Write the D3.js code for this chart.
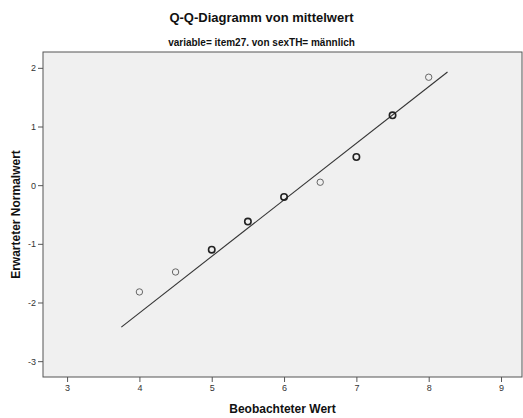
<!DOCTYPE html>
<html>
<head>
<meta charset="utf-8">
<script src="https://cdn.jsdelivr.net/npm/d3@7"></script>
<style>
body { margin: 0; background: #fff; }
text { font-family: "Liberation Sans", Arial, sans-serif; }
</style>
</head>
<body>
<div id="chart"></div>
<script>
var svgWidth = 523;
var svgHeight = 418;

var margin = { top: 52, right: 1, bottom: 41, left: 43 };
var chartWidth = svgWidth - margin.left - margin.right;
var chartHeight = svgHeight - margin.top - margin.bottom;

var observed = [4, 4.5, 5, 5.5, 6, 6.5, 7, 7.5, 8];
var expected = [-1.82, -1.48, -1.10, -0.62, -0.20, 0.05, 0.48, 1.19, 1.84];
var counts = [1, 1, 2, 2, 2, 1, 2, 2, 1];

// reference line ends
var lineX = [3.75, 8.26];
var lineY = [-2.42, 1.93];

var xTicks = [3, 4, 5, 6, 7, 8, 9];
var yTicks = [-3, -2, -1, 0, 1, 2];

var svg = d3.select("#chart")
            .append("svg")
            .attr("width", svgWidth)
            .attr("height", svgHeight);

var chartGroup = svg.append("g")
                    .attr("transform", `translate(${margin.left}, ${margin.top})`);

var xScale = d3.scaleLinear()
               .domain([2.667, 9.29])
               .range([0, chartWidth]);

var yScale = d3.scaleLinear()
               .domain([-3.27, 2.27])
               .range([chartHeight, 0]);

chartGroup.append("rect")
          .attr("width", chartWidth)
          .attr("height", chartHeight)
          .attr("fill", "#f0f0f0")
          .attr("stroke", "#555")
          .attr("stroke-width", 1);

var bottomAxis = d3.axisBottom(xScale).tickValues(xTicks).tickSize(5).tickPadding(3)
                   .tickFormat(d => String(d));
var leftAxis = d3.axisLeft(yScale).tickValues(yTicks).tickSize(5).tickPadding(2)
                 .tickFormat(d => String(d));

var xAxis = chartGroup.append("g")
                      .attr("transform", `translate(0, ${chartHeight})`)
                      .call(bottomAxis);
var yAxis = chartGroup.append("g").call(leftAxis);

[xAxis, yAxis].forEach(function(ax) {
    ax.select(".domain").remove();
    ax.selectAll(".tick line").attr("stroke", "#555");
    ax.selectAll(".tick text")
      .attr("fill", "#333")
      .attr("font-size", "9px")
      .style("font-family", "'Liberation Sans', Arial, sans-serif");
});

var line = d3.line()
             .x(d => xScale(d[0]))
             .y(d => yScale(d[1]));

chartGroup.append("path")
          .datum(d3.zip(lineX, lineY))
          .attr("d", line)
          .attr("fill", "none")
          .attr("stroke", "#333")
          .attr("stroke-width", 1.1);

chartGroup.selectAll("circle")
          .data(d3.zip(observed, expected, counts))
          .enter()
          .append("circle")
          .attr("cx", d => xScale(d[0]))
          .attr("cy", d => yScale(d[1]))
          .attr("r", 3.2)
          .attr("fill", "none")
          .attr("stroke", d => d[2] > 1 ? "#222" : "#666")
          .attr("stroke-width", d => d[2] > 1 ? 1.6 : 1);

svg.append("text")
   .attr("x", svgWidth / 2)
   .attr("y", 22)
   .attr("text-anchor", "middle")
   .attr("font-size", "13px")
   .attr("font-weight", "bold")
   .attr("fill", "#111")
   .text("Q-Q-Diagramm von mittelwert");

svg.append("text")
   .attr("x", svgWidth / 2)
   .attr("y", 46)
   .attr("text-anchor", "middle")
   .attr("font-size", "10px")
   .attr("font-weight", "bold")
   .attr("fill", "#111")
   .text("variable= item27. von sexTH= männlich");

svg.append("text")
   .attr("x", margin.left + chartWidth / 2)
   .attr("y", 413)
   .attr("text-anchor", "middle")
   .attr("font-size", "12px")
   .attr("font-weight", "bold")
   .attr("fill", "#111")
   .text("Beobachteter Wert");

svg.append("text")
   .attr("transform", `translate(20, ${margin.top + chartHeight / 2}) rotate(-90)`)
   .attr("text-anchor", "middle")
   .attr("font-size", "12px")
   .attr("font-weight", "bold")
   .attr("fill", "#111")
   .text("Erwarteter Normalwert");
</script>
</body>
</html>
